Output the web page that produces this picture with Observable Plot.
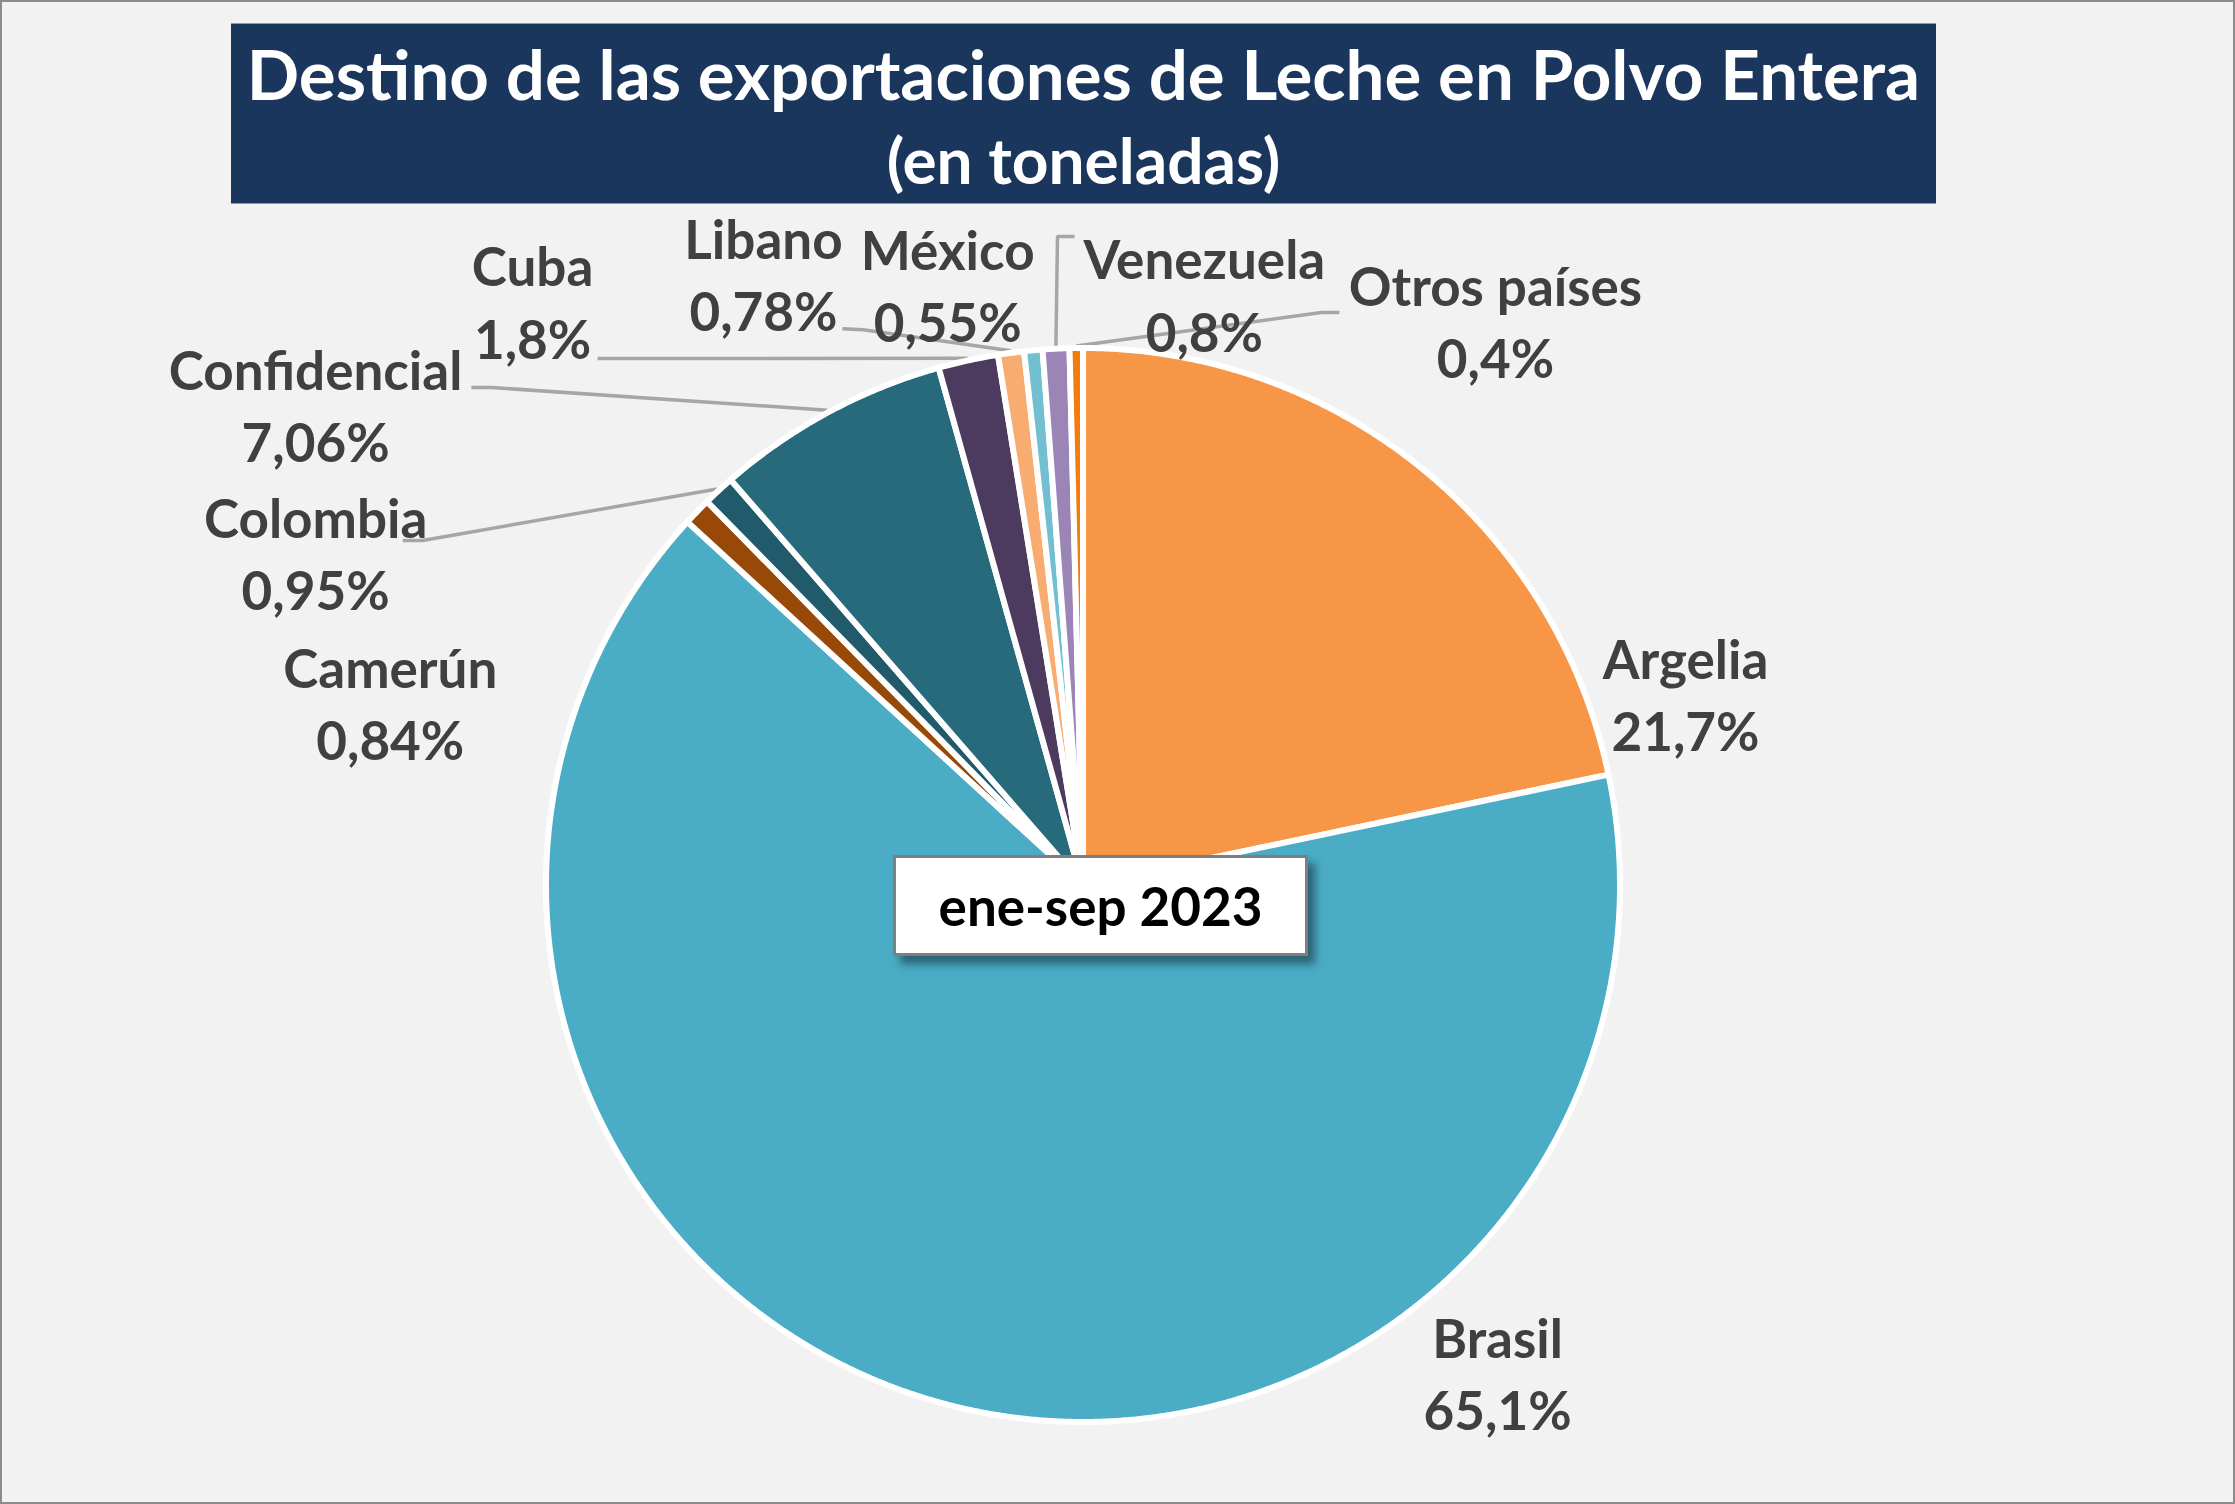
<!DOCTYPE html>
<html>
<head>
<meta charset="utf-8">
<script src="https://cdn.jsdelivr.net/npm/d3@7"></script>
<script src="https://cdn.jsdelivr.net/npm/@observablehq/plot@0.6"></script>
<style>
  html, body { margin: 0; padding: 0; background: #f2f2f2; }
  #page {
    position: relative; width: 2235px; height: 1504px; box-sizing: border-box;
    border: 2px solid #8c8c8c; background: #f2f2f2; overflow: hidden;
    font-family: Lato, "Open Sans", sans-serif;
  }
  #title {
    position: absolute; left: 229px; top: 21px; width: 1705px; height: 181px;
    background: #1a365d; color: #ffffff; font-weight: 700; text-align: center;
    border-top: 1px solid #8a9bb3; border-bottom: 1px solid #8a9bb3; box-sizing: border-box;
  }
  #title .l1 { position: absolute; left: 0; right: 0; top: 8px; font-size: 69px; line-height: 83px; white-space: nowrap; }
  #title .l2 { position: absolute; left: 0; right: 0; top: 97px; font-size: 64px; line-height: 77px; white-space: nowrap; }
  #chart { position: absolute; left: 0; top: 202px; }
  #chart svg { overflow: visible; }
  #period {
    position: absolute; left: 891px; top: 853px; width: 415px; height: 101px; box-sizing: border-box;
    background: #ffffff; border: 3px solid #7f7f7f; box-shadow: 7px 8px 8px rgba(20,40,50,0.55);
    display: flex; align-items: center; justify-content: center;
    font-weight: 700; font-size: 53px; color: #000000; white-space: nowrap;
  }
</style>
</head>
<body>
<div id="page">
  <div id="title"><div class="l1">Destino de las exportaciones de Leche en Polvo Entera</div><div class="l2">(en toneladas)</div></div>
  <div id="chart"></div>
  <div id="period">ene-sep 2023</div>
</div>
<script>
// ---------- data ----------
const countries = ["Argelia", "Brasil", "Camerún", "Colombia", "Confidencial", "Cuba", "Libano", "México", "Venezuela", "Otros países"];
const shares = [21.7, 65.1, 0.84, 0.95, 7.06, 1.8, 0.78, 0.55, 0.8, 0.4];
const sliceColors = ["#f79646", "#4bacc6", "#984807", "#215a6a", "#276a7b", "#4d3a5f", "#f9ac6f", "#72bfd2", "#9a85b6", "#f47b0e"];

// ---------- layout (in units of the pie radius, centre = 0,0) ----------
const labelPos = [
  [1.122, 0.352], [0.772, -0.912], [-1.290, 0.336], [-1.429, 0.615], [-1.429, 0.891],
  [-1.025, 1.083], [-0.595, 1.134], [-0.252, 1.113], [0.226, 1.096], [0.768, 1.047]
];
// leader start + knee for labels that have a leader line
const leaderStart = {
  "Colombia": [[-1.267, 0.6415], [-1.230, 0.6415]],
  "Confidencial": [[-1.139, 0.9264], [-1.101, 0.9264]],
  "Cuba": [[-0.904, 0.9804], [-0.870, 0.9804]],
  "Libano": [[-0.448, 1.036], [-0.409, 1.034]],
  "Venezuela": [[-0.0158, 1.2077], [-0.0475, 1.2077]],
  "Otros países": [[0.4776, 1.0661], [0.444, 1.0661]]
};

const W = 2231, H = 1300, CX = 1080.5, CY = 680.5, R = 537;

const arcs = d3.pie().sort(null).value(d => d)(shares);

const slicePts = [];
arcs.forEach((a, i) => {
  const name = countries[i];
  slicePts.push({name, x: 0, y: 0});
  const n = Math.max(2, Math.ceil((a.endAngle - a.startAngle) / 0.004));
  for (let k = 0; k <= n; k++) {
    const t = a.startAngle + (a.endAngle - a.startAngle) * k / n;
    slicePts.push({name, x: Math.sin(t), y: Math.cos(t)});
  }
  slicePts.push({name, x: 0, y: 0});
});

const fmt = v => String(v).replace(".", ",") + "%";
const labels = countries.map((c, i) => ({
  name: c, x: labelPos[i][0], y: labelPos[i][1], text: c + "\n" + fmt(shares[i])
}));

const leaderPts = [];
arcs.forEach((a, i) => {
  const name = countries[i];
  const st = leaderStart[name];
  if (!st) return;
  const mid = (a.startAngle + a.endAngle) / 2;
  st.forEach(p => leaderPts.push({name, x: p[0], y: p[1]}));
  leaderPts.push({name, x: 1.004 * Math.sin(mid), y: 1.004 * Math.cos(mid)});
});

const chart = Plot.plot({
  width: W, height: H, margin: 0,
  style: {background: "transparent", fontFamily: "Lato, 'Open Sans', sans-serif", overflow: "visible"},
  x: {axis: null, domain: [-CX / R, (W - CX) / R]},
  y: {axis: null, domain: [-(H - CY) / R, CY / R]},
  color: {type: "ordinal", domain: countries, range: sliceColors},
  marks: [
    Plot.line(leaderPts, {x: "x", y: "y", z: "name", stroke: "#a6a6a6", strokeWidth: 3.5, strokeLinejoin: "miter", strokeLinecap: "butt"}),
    Plot.line(slicePts, {x: "x", y: "y", z: "name", fill: "name", stroke: "#ffffff", strokeWidth: 6, strokeLinejoin: "round"}),
    Plot.text(labels, {x: "x", y: "y", text: "text", fill: "#404040", fontSize: 53, fontWeight: 700, lineHeight: 1.36, textAnchor: "middle", dy: -4})
  ]
});
document.getElementById("chart").appendChild(chart);
</script>
</body>
</html>
